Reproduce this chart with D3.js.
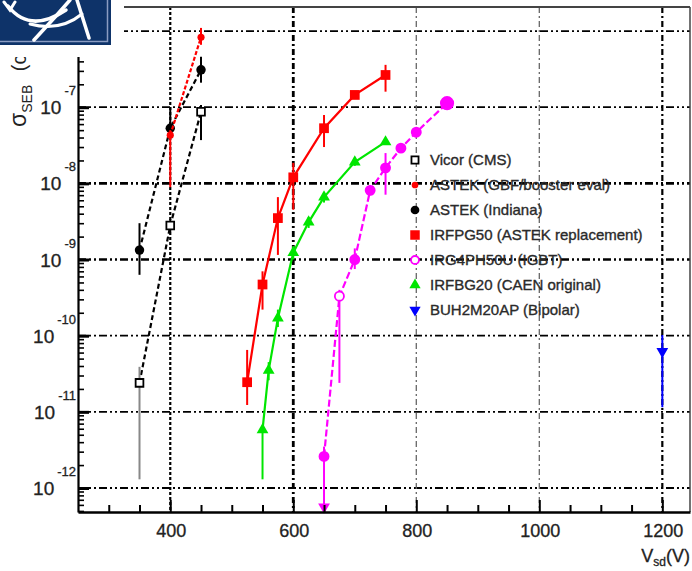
<!DOCTYPE html>
<html><head><meta charset="utf-8">
<script src="https://cdn.jsdelivr.net/npm/d3@7"></script>
<style>
html,body{margin:0;padding:0;background:#fff;}
svg{display:block;}
text{font-family:"Liberation Sans",Arial,Helvetica,sans-serif;}
</style></head>
<body><svg id="c" width="692" height="571"></svg>
<script>
// ---------- data ----------
const vicorV  = [350, 400, 450];
const vicorS  = [2.4e-11, 2.8e-9, 8.7e-8];
const vicorLo = [1.3e-12, 2.3e-9, 3.7e-8];
const vicorHi = [3.9e-11, 3.4e-9, 1.07e-7];

const gbfV  = [400, 450];
const gbfS  = [4.3e-8, 8.3e-7];
const gbfLo = [8.9e-9, 6.6e-7];
const gbfHi = [5.0e-8, 1.1e-6];

const indV  = [350, 400, 450];
const indS  = [1.33e-9, 5.3e-8, 3.1e-7];
const indLo = [6.3e-10, 4.1e-8, 2.1e-7];
const indHi = [3.0e-9, 1.0e-7, 4.6e-7];

const pg50V  = [525, 550, 575, 600, 650, 700, 750];
const pg50S  = [2.45e-11, 4.7e-10, 3.5e-9, 1.2e-8, 5.3e-8, 1.45e-7, 2.65e-7];
const pg50Lo = [1.23e-11, 2.2e-10, 1.15e-9, 4.5e-9, 3.0e-8, 1.3e-7, 1.6e-7];
const pg50Hi = [6.5e-11, 7.0e-10, 6.6e-9, 1.86e-8, 7.9e-8, 1.6e-7, 3.6e-7];

const igbtV  = [650, 675, 700, 725, 750, 775, 800, 850];
const igbtS  = [2.6e-12, 3.3e-10, 1.0e-9, 8.1e-9, 1.6e-8, 2.9e-8, 4.7e-8, 1.13e-7];
const igbtLo = [5.0e-13, 2.4e-11, 7.5e-10, 7.0e-9, 7.1e-9, 2.6e-8, 4.3e-8, 1.05e-7];
const igbtHi = [3.5e-12, 4.0e-10, 1.4e-9, 9.5e-9, 2.5e-8, 3.2e-8, 5.2e-8, 1.2e-7];
const igbtArrow = [true, false, false, false, false, false, false, false];

const bg20V  = [550, 560, 575, 600, 625, 650, 700, 750];
const bg20S  = [5.8e-12, 3.5e-11, 1.7e-10, 1.23e-9, 3.1e-9, 6.6e-9, 1.9e-8, 3.5e-8];
const bg20Lo = [1.3e-12, 2.6e-11, 1.3e-10, 1.0e-9, 2.6e-9, 5.6e-9, 1.7e-8, 3.2e-8];
const bg20Hi = [6.5e-12, 4.5e-11, 2.2e-10, 1.5e-9, 3.6e-9, 7.5e-9, 2.1e-8, 3.8e-8];

const bipV  = [1200];
const bipS  = [6.2e-11];
const bipLo = [1.15e-11];
const bipHi = [1.02e-10];

const legendLabels = ["Vicor (CMS)", "ASTEK (GBF/booster eval)", "ASTEK (Indiana)",
  "IRFPG50 (ASTEK replacement)", "IRG4PH50U (IGBT)", "IRFBG20 (CAEN original)", "BUH2M20AP (Bipolar)"];

const xMajorTicks = [400, 600, 800, 1000, 1200];
const yDecades = [-12, -11, -10, -9, -8, -7, -6];
const xTitle = "V", xTitleSub = "sd", xTitleUnit = "(V)";
const yTitle = "σ", yTitleSub = "SEB", yTitleUnit = " (cm";

// ---------- scales ----------
const svg = d3.select("#c");
const x = d3.scaleLinear().domain([250, 1245]).range([78, 690]);
const y = d3.scaleLog().domain([4.84e-13, 2.07e-6]).range([512, 7]);
const X0 = 78, X1 = 690, Y0 = 512, Y1 = 7;

// ---------- grid ----------
const g = svg.append("g");
yDecades.forEach(d => {
  const v = Math.pow(10, d);
  const heavy = (d === -8 || d === -9);
  g.append("line").attr("x1", X0).attr("x2", X1).attr("y1", y(v)).attr("y2", y(v))
    .attr("stroke", "#000").attr("stroke-width", heavy ? 2.6 : 1.8)
    .attr("stroke-dasharray", "8,3,2,3,2,3");
});
xMajorTicks.forEach(v => {
  const light = (v === 800 || v === 1000);
  g.append("line").attr("x1", x(v)).attr("x2", x(v)).attr("y1", Y1).attr("y2", Y0)
    .attr("stroke", light ? "#666" : "#000").attr("stroke-width", light ? 1.3 : (v === 600 ? 2.8 : 2.2))
    .attr("stroke-dasharray", v === 400 ? "3,2" : "6,3,2,3");
});

// ---------- series ----------
function series(V, S, Lo, Hi, opt) {
  const pts = V.map((v, i) => ({v, s: S[i], lo: Lo[i], hi: Hi[i], i}));
  const line = d3.line().x(d => x(d.v)).y(d => y(d.s));
  const gg = svg.append("g");
  gg.append("path").datum(pts).attr("d", line).attr("fill", "none")
    .attr("stroke", opt.color).attr("stroke-width", opt.lw || 2.2)
    .attr("stroke-dasharray", opt.dash || null);
  gg.selectAll("line.err").data(pts).enter().append("line")
    .attr("x1", d => x(d.v)).attr("x2", d => x(d.v))
    .attr("y1", d => y(d.lo)).attr("y2", d => y(d.hi))
    .attr("stroke", d => (opt.errColor ? opt.errColor(d) : opt.color))
    .attr("stroke-width", 2);
  gg.selectAll("path.m").data(pts).enter().append("path")
    .attr("transform", d => `translate(${x(d.v)},${y(d.s)})` + (opt.rot ? ` rotate(${opt.rot})` : ""))
    .attr("d", d => d3.symbol().type(opt.sym).size(opt.size(d))())
    .attr("fill", d => opt.open && opt.open(d) ? "#fff" : opt.color)
    .attr("stroke", opt.color).attr("stroke-width", opt.open ? 1.8 : 0);
  return gg;
}

series(vicorV, vicorS, vicorLo, vicorHi, {color: "#000", dash: "5,3", sym: d3.symbolSquare,
  size: () => 60, open: () => true, errColor: d => d.i === 0 ? "#888" : "#000"});
series(indV, indS, indLo, indHi, {color: "#000", dash: "5,3", sym: d3.symbolCircle, size: () => 70});
series(gbfV, gbfS, gbfLo, gbfHi, {color: "#ff0000", dash: "4,2", sym: d3.symbolCircle, size: () => 40});
series(pg50V, pg50S, pg50Lo, pg50Hi, {color: "#ff0000", sym: d3.symbolSquare, size: () => 95});
series(bg20V, bg20S, bg20Lo, bg20Hi, {color: "#00e600", sym: d3.symbolTriangle, size: () => 60});
const ig = series(igbtV, igbtS, igbtLo, igbtHi, {color: "#ff00ff", dash: "7,3", sym: d3.symbolCircle,
  size: d => d.i === igbtV.length - 1 ? 120 : 65, open: d => d.i === 1});
ig.selectAll("path.arr").data(igbtV.map((v, i) => ({v, lo: igbtLo[i], a: igbtArrow[i]})).filter(d => d.a))
  .enter().append("path")
  .attr("transform", d => `translate(${x(d.v)},${y(d.lo) - 4}) rotate(180)`)
  .attr("d", d3.symbol().type(d3.symbolTriangle).size(60)())
  .attr("fill", "#ff00ff");
series(bipV, bipS, bipLo, bipHi, {color: "#0000ff", sym: d3.symbolTriangle, size: () => 60, rot: 180});

// ---------- axes / frame ----------
const ax = svg.append("g");
ax.append("line").attr("x1", X0).attr("x2", X1).attr("y1", Y1).attr("y2", Y1).attr("stroke", "#444").attr("stroke-width", 2);
ax.append("line").attr("x1", X1).attr("x2", X1).attr("y1", Y1).attr("y2", Y0).attr("stroke", "#444").attr("stroke-width", 1.5);

const yAxis = d3.axisRight(y).tickSizeOuter(0).tickFormat("");
const yMinor = [];
for (let d = -13; d <= -6; d++) for (let k = 1; k <= 9; k++) {
  const v = k * Math.pow(10, d);
  if (v >= y.domain()[0] && v <= y.domain()[1]) yMinor.push(v);
}
yAxis.tickValues(yMinor).tickSize(0);
const yg = ax.append("g").attr("transform", `translate(${X0},0)`).call(yAxis);
yg.select(".domain").attr("stroke", "#000").attr("stroke-width", 2.2);
const isMajor = d => Math.abs(Math.log10(d) - Math.round(Math.log10(d))) < 1e-6;
yg.selectAll(".tick line").attr("x2", d => isMajor(d) ? 11 : 6)
  .attr("stroke", "#000").attr("stroke-width", d => isMajor(d) ? 3 : 1.6);

yDecades.filter(d => d <= -7).forEach(d => {
  const t = ax.append("text").attr("x", 76).attr("y", y(Math.pow(10, d)) + 7)
    .attr("text-anchor", "end").attr("fill", "#222").attr("stroke", "#222").attr("stroke-width", 0.3)
    .style("font-size", "19px");
  t.append("tspan").text("10");
  t.append("tspan").attr("dy", -19).attr("dx", 3).style("font-size", "13px").text(String(d));
});

const xMinor = d3.range(300, 1245, 50);
const xAxis = d3.axisTop(x).tickValues(xMinor).tickSize(0).tickFormat("").tickSizeOuter(0);
const xg = ax.append("g").attr("transform", `translate(0,${Y0})`).call(xAxis);
xg.select(".domain").attr("stroke", "#000").attr("stroke-width", 2.5);
xg.selectAll(".tick line").attr("y2", d => xMajorTicks.includes(d) ? -12 : -7)
  .attr("stroke", "#000").attr("stroke-width", 2);
xMajorTicks.forEach(v => {
  ax.append("text").attr("x", x(v) + 1).attr("y", 537).attr("text-anchor", "middle")
    .attr("fill", "#222").attr("stroke", "#222").attr("stroke-width", 0.3)
    .style("font-size", "18px").text(v);
});

const xt = ax.append("text").attr("x", 690).attr("y", 562).attr("text-anchor", "end")
  .attr("fill", "#222").attr("stroke", "#222").attr("stroke-width", 0.3).style("font-size", "18px");
xt.append("tspan").text(xTitle);
xt.append("tspan").attr("dy", 4).style("font-size", "12px").text(xTitleSub);
xt.append("tspan").attr("dy", -4).text(xTitleUnit);

const yt = ax.append("text").attr("transform", "translate(26,127) rotate(-90)")
  .attr("fill", "#222").style("font-size", "23px");
yt.append("tspan").text(yTitle);
yt.append("tspan").attr("dy", 6).style("font-size", "14px").text(yTitleSub);
yt.append("tspan").attr("dy", -6).attr("dx", 8).style("font-size", "20px").text(yTitleUnit);
yt.append("tspan").attr("dy", -8).style("font-size", "12px").text("2");
yt.append("tspan").attr("dy", 8).style("font-size", "20px").text(")");

// ---------- legend ----------
const lg = svg.append("g");
const legStyles = [
  {color: "#000", sym: d3.symbolSquare, size: 50, open: true},
  {color: "#ff0000", sym: d3.symbolCircle, size: 35},
  {color: "#000", sym: d3.symbolCircle, size: 60},
  {color: "#ff0000", sym: d3.symbolSquare, size: 90},
  {color: "#ff00ff", sym: d3.symbolCircle, size: 50, open: true},
  {color: "#00e600", sym: d3.symbolTriangle, size: 55},
  {color: "#0000ff", sym: d3.symbolTriangle, size: 55, rot: 180}
];
legendLabels.forEach((lab, i) => {
  const yy = 160 + i * 25;
  const s = legStyles[i];
  lg.append("path").attr("transform", `translate(415,${yy})` + (s.rot ? ` rotate(${s.rot})` : ""))
    .attr("d", d3.symbol().type(s.sym).size(s.size)())
    .attr("fill", s.open ? "#fff" : s.color).attr("stroke", s.color).attr("stroke-width", s.open ? 1.8 : 0);
  lg.append("text").attr("x", 430).attr("y", yy + 5).attr("fill", "#2a2a2a")
    .attr("stroke", "#2a2a2a").attr("stroke-width", 0.35)
    .style("font-size", "15px").text(lab);
});

// ---------- logo ----------
const lo = svg.append("g");
lo.append("rect").attr("x", 0).attr("y", 0).attr("width", 124).attr("height", 57).attr("fill", "#fff");
lo.append("rect").attr("x", 0).attr("y", 0).attr("width", 111).attr("height", 45).attr("fill", "#0e3369");
lo.append("path").attr("d", "M107.5,0 V41.5 H0").attr("fill", "none").attr("stroke", "#8a9cc2").attr("stroke-width", 1.5);
const wp = (d, w) => lo.append("path").attr("d", d).attr("fill", "none").attr("stroke", "#fff")
  .attr("stroke-width", w).attr("stroke-linecap", "round");
wp("M8,6 Q30,34 66,10", 3.5);
wp("M30,24 Q60,32 82,14", 3);
wp("M34,40 L56,16 L70,0", 3.5);
wp("M77,0 L89,38", 3.5);
wp("M4,2 L10,10 L15,2", 3);
</script></body></html>
